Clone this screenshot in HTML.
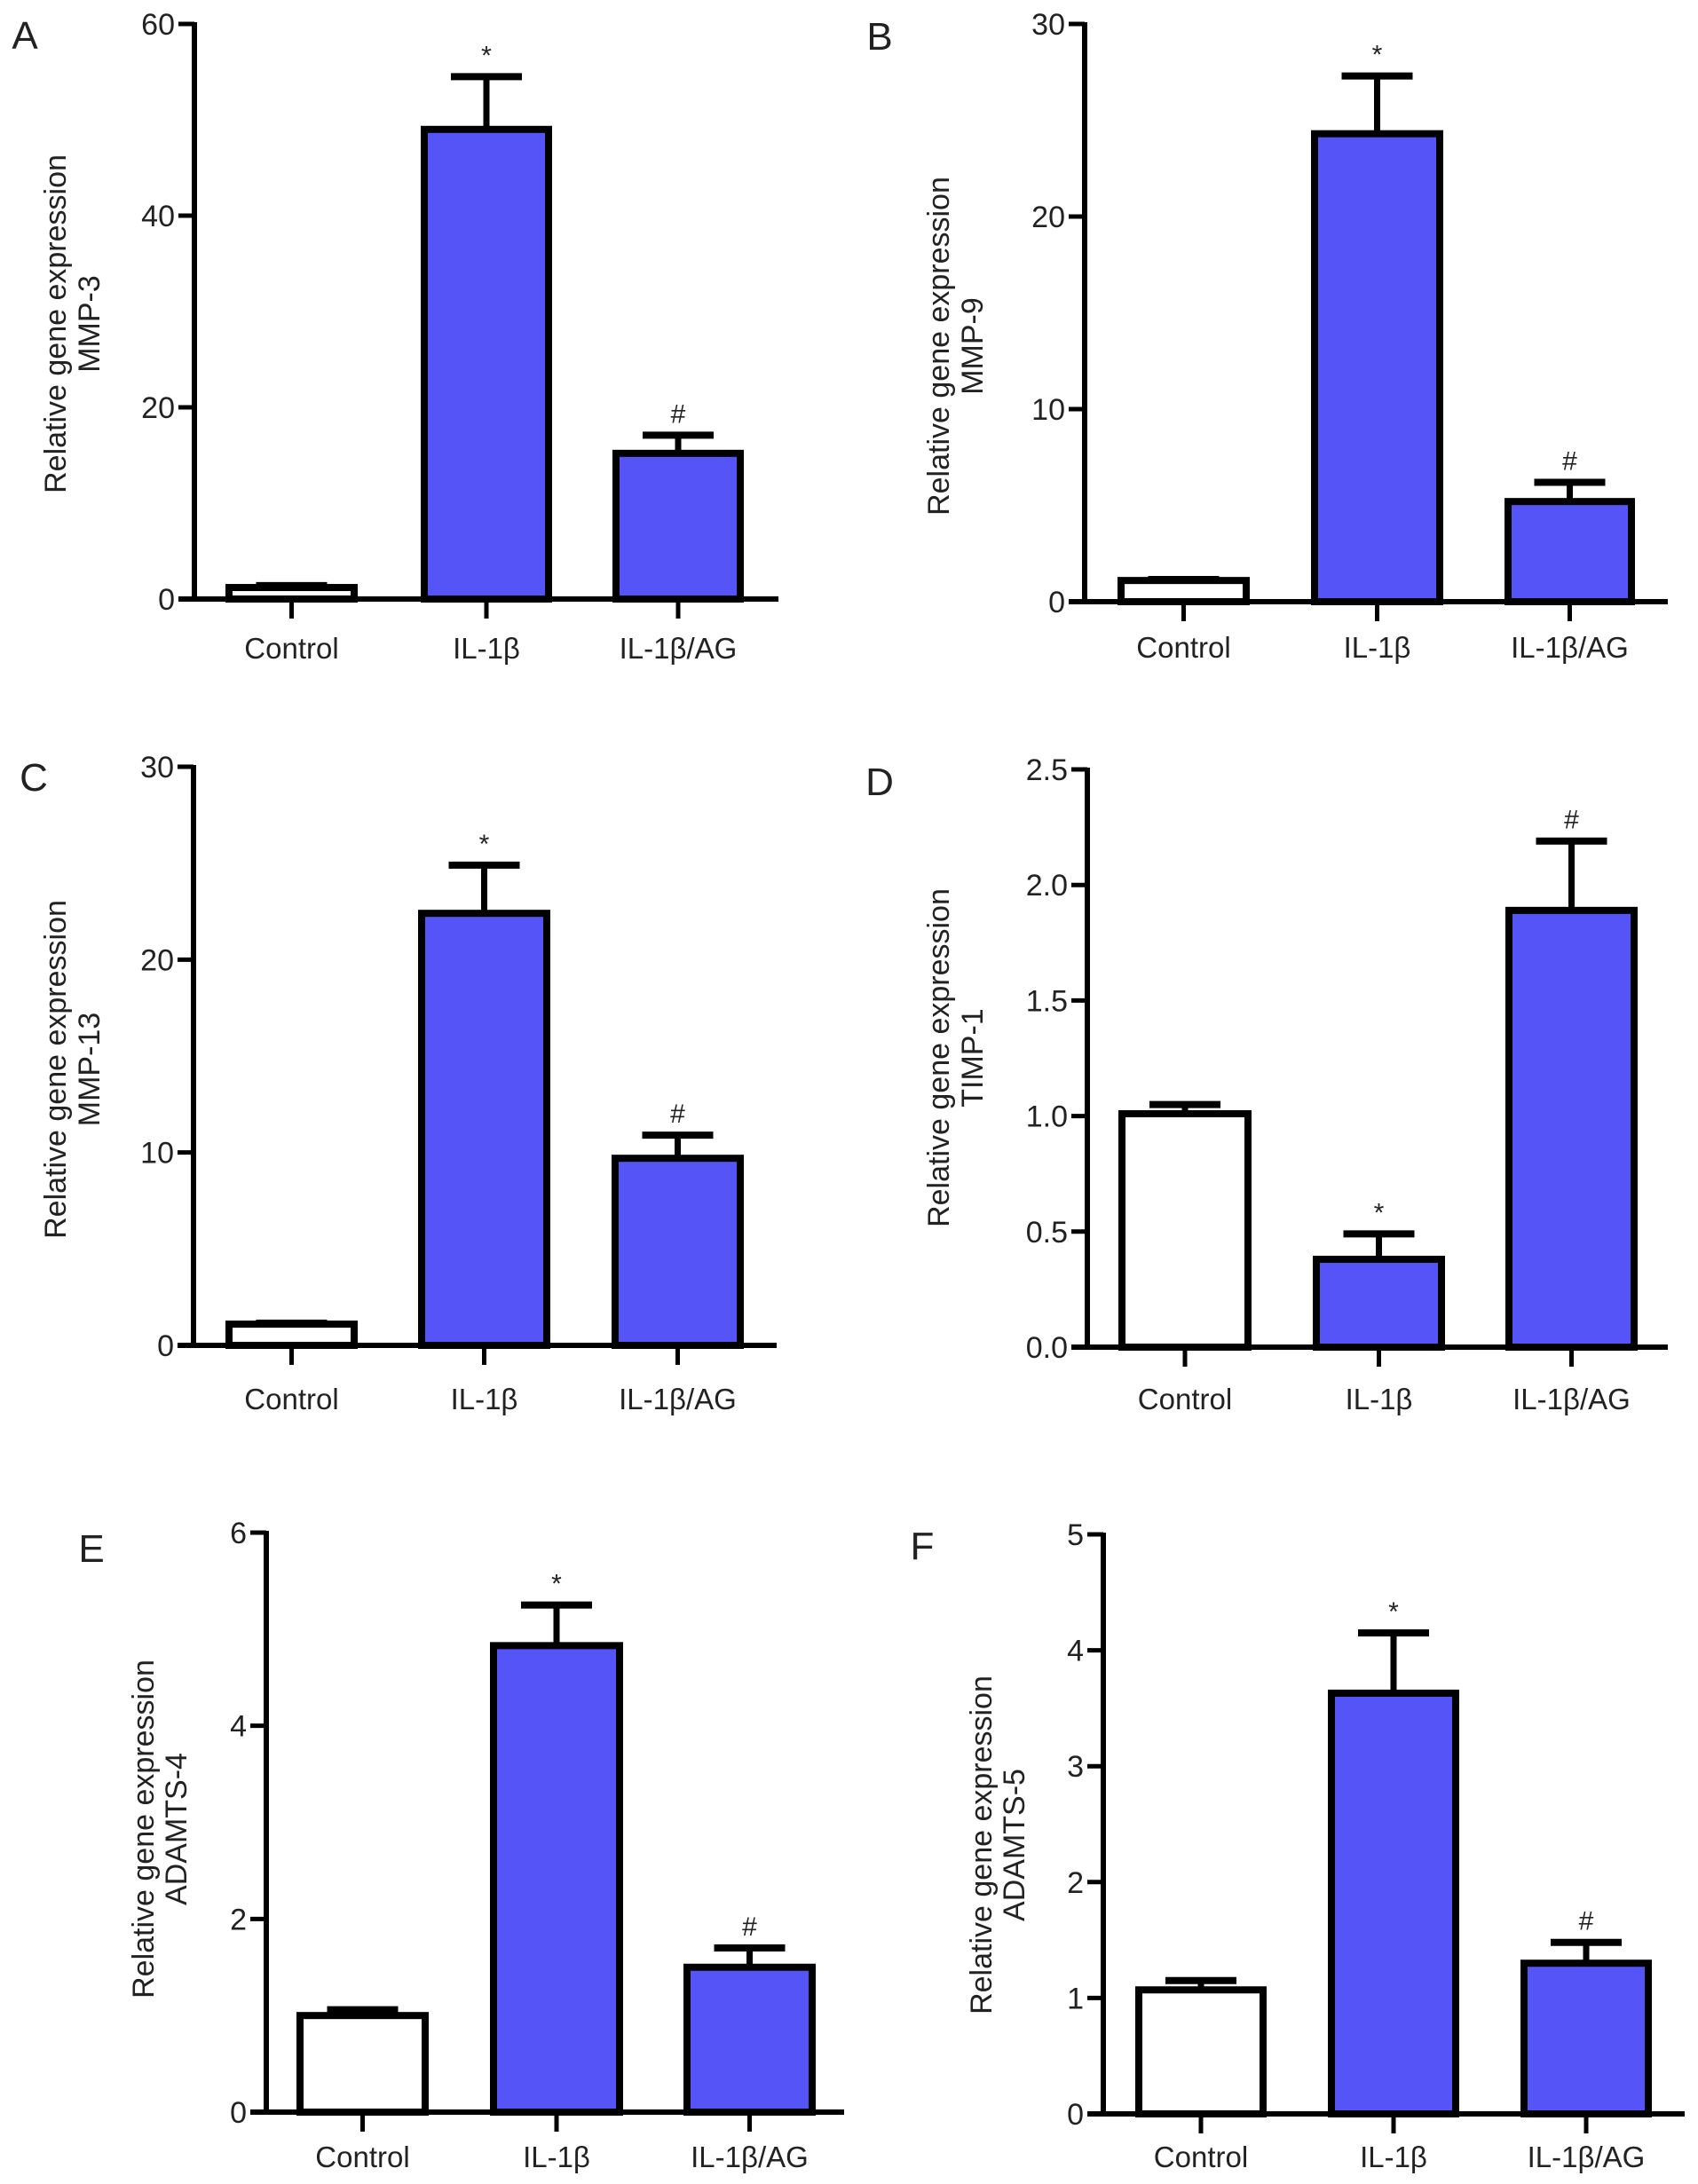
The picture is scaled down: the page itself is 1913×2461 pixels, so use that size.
<!DOCTYPE html>
<html><head><meta charset="utf-8"><style>
html,body{margin:0;padding:0;background:#fff;}
svg{display:block;}
text{font-family:"Liberation Sans",sans-serif;fill:#222;}
</style></head><body>
<svg id="fig" width="1913" height="2461" viewBox="0 0 1913 2461" xmlns="http://www.w3.org/2000/svg"></svg>
<script>
const categories = ["Control", "IL-1β", "IL-1β/AG"];
const valuesA = [1.2, 49.0, 15.2];
const errorsA = [1.4, 54.5, 17.1];
const ticksA = [0, 20, 40, 60];
const valuesB = [1.1, 24.3, 5.2];
const errorsB = [1.15, 27.3, 6.2];
const ticksB = [0, 10, 20, 30];
const valuesC = [1.1, 22.4, 9.7];
const errorsC = [1.15, 24.9, 10.9];
const ticksC = [0, 10, 20, 30];
const valuesD = [1.01, 0.38, 1.89];
const errorsD = [1.05, 0.49, 2.19];
const ticksD = [0, 0.5, 1.0, 1.5, 2.0, 2.5];
const tickLabelsD = ["0.0", "0.5", "1.0", "1.5", "2.0", "2.5"];
const valuesE = [1.0, 4.83, 1.5];
const errorsE = [1.06, 5.25, 1.7];
const ticksE = [0, 2, 4, 6];
const valuesF = [1.07, 3.63, 1.3];
const errorsF = [1.15, 4.15, 1.48];
const ticksF = [0, 1, 2, 3, 4, 5];
const marksA = ["", "*", "#"];
const marksD = ["", "*", "#"];

const NS = "http://www.w3.org/2000/svg";
const svg = document.getElementById("fig");
function mk(tag, attrs, parent) {
  const e = document.createElementNS(NS, tag);
  for (const k in attrs) e.setAttribute(k, attrs[k]);
  (parent || svg).appendChild(e);
  return e;
}

const panels = [
  {id:"a", letter:"A", lx:28, ly:39, ax:219, top:27, zero:675, right:877, max:60, ticks:ticksA, tl:null, vals:valuesA, errs:errorsA, marks:marksA, bars:[[254,403],[474,622],[690,838]], gene:"MMP-3", tx:[62,100], ty:365, cy:730},
  {id:"b", letter:"B", lx:991, ly:40, ax:1222, top:27, zero:678, right:1879, max:30, ticks:ticksB, tl:null, vals:valuesB, errs:errorsB, marks:marksA, bars:[[1259,1408],[1477,1626],[1695,1842]], gene:"MMP-9", tx:[1057,1095], ty:390, cy:729},
  {id:"c", letter:"C", lx:38, ly:875, ax:218, top:864, zero:1516, right:875, max:30, ticks:ticksC, tl:null, vals:valuesC, errs:errorsC, marks:marksA, bars:[[254,403],[471,620],[689,838]], gene:"MMP-13", tx:[62,100], ty:1205, cy:1576},
  {id:"d", letter:"D", lx:991, ly:880, ax:1225, top:867, zero:1518, right:1879, max:2.5, ticks:ticksD, tl:tickLabelsD, vals:valuesD, errs:errorsD, marks:marksD, bars:[[1260,1410],[1479,1628],[1696,1845]], gene:"TIMP-1", tx:[1057,1095], ty:1192, cy:1576},
  {id:"e", letter:"E", lx:103, ly:1744, ax:300, top:1727, zero:2380, right:951, max:6, ticks:ticksE, tl:null, vals:valuesE, errs:errorsE, marks:marksA, bars:[[334,483],[552,702],[770,919]], gene:"ADAMTS-4", tx:[161,198], ty:2061, cy:2430},
  {id:"f", letter:"F", lx:1039, ly:1741, ax:1243, top:1729, zero:2382, right:1898, max:5, ticks:ticksF, tl:null, vals:valuesF, errs:errorsF, marks:marksA, bars:[[1279,1427],[1496,1644],[1713,1861]], gene:"ADAMTS-5", tx:[1105,1142], ty:2079, cy:2430}
];

panels.forEach(p => {
  const g = mk("g", {});
  
  
  const y = v => p.zero - (v / p.max) * (p.zero - p.top);

  const L = mk("text", {x:p.lx, y:p.ly + 16, "font-size":44, "text-anchor":"middle"}, g);
  L.textContent = p.letter;
  
  

  p.vals.forEach((v, i) => {
    const [x0, x1] = p.bars[i];
    const sw = 8;
    const ey = y(p.errs[i]);
    const cx = (x0 + x1) / 2;
    const eb = mk("g", {}, g);
    
    
    mk("line", {x1:cx, y1:y(v), x2:cx, y2:ey, stroke:"#000", "stroke-width":7}, eb);
    mk("line", {x1:cx - 40, y1:ey, x2:cx + 40, y2:ey, stroke:"#000", "stroke-width":8}, eb);
    const r = mk("rect", {x:x0 + sw/2, y:y(v), width:(x1 - x0) - sw, height:Math.max(0, p.zero - y(v)), fill: i === 0 ? "#fff" : "#5555f7", stroke:"#000", "stroke-width":sw}, g);
    
    
    if (p.marks[i]) {
      const m = mk("text", {x:cx, y:ey - 14, "font-size":30, "text-anchor":"middle"}, g);
      m.textContent = p.marks[i];
      
      
    }
    mk("line", {x1:cx, y1:p.zero, x2:cx, y2:p.zero + 22, stroke:"#000", "stroke-width":5}, g);
    const ct = mk("text", {x:cx, y:p.cy + 12, "font-size":33, "text-anchor":"middle"}, g);
    ct.textContent = categories[i];
    
    
  });

  const ya = mk("line", {x1:p.ax, y1:p.top - 2, x2:p.ax, y2:p.zero + 3, stroke:"#000", "stroke-width":6}, g);
  
  
  const xa = mk("line", {x1:p.ax - 18, y1:p.zero, x2:p.right, y2:p.zero, stroke:"#000", "stroke-width":6}, g);
  
  
  p.ticks.forEach((t, k) => {
    const ty = y(t);
    mk("line", {x1:p.ax - 18, y1:ty, x2:p.ax, y2:ty, stroke:"#000", "stroke-width":5}, g);
    const tt = mk("text", {x:p.ax - 22, y:ty + 12, "font-size":34, "text-anchor":"end"}, g);
    tt.textContent = p.tl ? p.tl[k] : String(t);
    
    
  });

  const t1 = mk("text", {x:p.tx[0], y:p.ty, "font-size":34, "text-anchor":"middle", transform:"rotate(-90 " + p.tx[0] + " " + p.ty + ")", dy:12}, g);
  t1.textContent = "Relative gene expression";
  
  
  const t2 = mk("text", {x:p.tx[1], y:p.ty, "font-size":34, "text-anchor":"middle", transform:"rotate(-90 " + p.tx[1] + " " + p.ty + ")", dy:12}, g);
  t2.textContent = p.gene;
  
  
});
</script>
</body></html>
